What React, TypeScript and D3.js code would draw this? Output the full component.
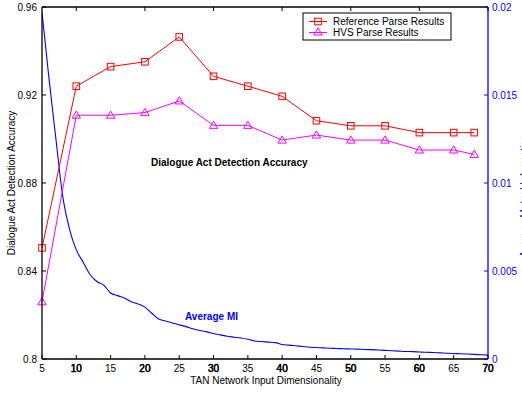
import React from "react";
import * as d3 from "d3";

const dims = [5, 10, 15, 20, 25, 30, 35, 40, 45, 50, 55, 60, 65, 68];
const refParse = [0.8505, 0.924, 0.9329, 0.9351, 0.9464, 0.9285, 0.924, 0.9194, 0.9083, 0.906, 0.906, 0.9029, 0.9029, 0.9029];
const hvsParse = [0.826, 0.9108, 0.9108, 0.912, 0.9173, 0.9062, 0.9062, 0.8995, 0.9018, 0.8995, 0.8995, 0.895, 0.895, 0.893];

const miDims = d3.range(5, 71);
const miValues = [
  0.0197, 0.016, 0.0126, 0.0093, 0.0074, 0.0062, 0.0055, 0.0048, 0.0044, 0.0042,
  0.00375, 0.0036, 0.00347, 0.00325, 0.00313, 0.00295, 0.0026, 0.00227, 0.00216, 0.00205,
  0.00194, 0.00184, 0.00172, 0.00162, 0.00154, 0.00145, 0.00137, 0.00129, 0.00124, 0.00119,
  0.00112, 0.00102, 0.00099, 0.00096, 0.00093, 0.00082, 0.00079, 0.00075, 0.00071, 0.00067,
  0.00065, 0.00063, 0.00061, 0.0006, 0.00058, 0.00057, 0.00056, 0.00054, 0.00053, 0.00051,
  0.00049, 0.00047, 0.00045, 0.00043, 0.00042, 0.0004, 0.00038, 0.00037, 0.00035, 0.00033,
  0.00031, 0.0003, 0.00028, 0.00026, 0.00024, 0.00022,
];

const xTicksMinor = [5, 15, 25, 35, 45, 55, 65];
const xTicksMajor = [10, 20, 30, 40, 50, 60, 70];
const yTicksLeft = [0.8, 0.84, 0.88, 0.92, 0.96];
const yTicksLeftLabels = ["0.8", "0.84", "0.88", "0.92", "0.96"];
const yTicksRight = [0, 0.005, 0.01, 0.015, 0.02];
const yTicksRightLabels = ["0", "0.005", "0.01", "0.015", "0.02"];

const W = 522, H = 393;
const L = 42, R = 488, T = 7, B = 359;
const FONT = "'Liberation Sans', Arial, Helvetica, sans-serif";
const FS = 10;

export default function App() {
  const x = d3.scaleLinear().domain([5, 70]).range([L, R]);
  const yL = d3.scaleLinear().domain([0.8, 0.96]).range([B, T]);
  const yR = d3.scaleLinear().domain([0, 0.02]).range([B, T]);

  const lineRef = d3.line<number>().x((_, i) => x(dims[i])).y((d) => yL(d));
  const lineMI = d3.line<number>().x((_, i) => x(miDims[i])).y((d) => yR(d)).curve(d3.curveMonotoneX);

  const sq = 3.3;
  const tri = (cx: number, cy: number) =>
    `M${cx},${cy - 4.2}L${cx + 4.2},${cy + 3}L${cx - 4.2},${cy + 3}Z`;

  return (
    <svg width={W} height={H} style={{ position: "absolute", left: 0, top: 0, background: "#fff" }} fontFamily={FONT}>
      <rect x={0} y={0} width={W} height={H} fill="#fff" />
      <defs>
        <clipPath id="plot">
          <rect x={L} y={T} width={R - L} height={B - T} />
        </clipPath>
      </defs>

      {/* MI curve */}
      <path d={lineMI(miValues) || ""} fill="none" stroke="#0000ff" strokeWidth={1.1} clipPath="url(#plot)" />

      {/* Reference parse */}
      <path d={lineRef(refParse) || ""} fill="none" stroke="#ff0000" strokeWidth={1} />
      {refParse.map((v, i) => (
        <rect key={"r" + i} x={x(dims[i]) - sq} y={yL(v) - sq} width={sq * 2} height={sq * 2} fill="none" stroke="#ff0000" strokeWidth={1} />
      ))}
      {/* HVS parse */}
      <path d={lineRef(hvsParse) || ""} fill="none" stroke="#ff00ff" strokeWidth={1} />
      {hvsParse.map((v, i) => (
        <path key={"h" + i} d={tri(x(dims[i]), yL(v))} fill="none" stroke="#ff00ff" strokeWidth={1} />
      ))}

      {/* Axes box */}
      <line x1={L} y1={T} x2={R} y2={T} stroke="#000" strokeWidth={1.3} />
      <line x1={L} y1={B} x2={R} y2={B} stroke="#000" strokeWidth={1.3} />
      <line x1={L} y1={T} x2={L} y2={B} stroke="#000" strokeWidth={1.3} />
      <line x1={R} y1={T} x2={R} y2={B} stroke="#0000ff" strokeWidth={1.3} />

      {/* x ticks */}
      {xTicksMinor.concat(xTicksMajor).map((t) => (
        <g key={"xt" + t}>
          <line x1={x(t)} y1={B} x2={x(t)} y2={B - 4} stroke="#000" />
          <text x={x(t)} y={372} fontSize={FS} textAnchor="middle" fill="#000">{t}</text>
        </g>
      ))}
      {xTicksMajor.map((t) => (
        <g key={"xtm" + t}>
          <line x1={x(t)} y1={T} x2={x(t)} y2={T + 4} stroke="#000" />
          <text x={x(t)} y={372} fontSize={FS} textAnchor="middle" fill="#000" stroke="#000" strokeWidth={0.4}>{t}</text>
        </g>
      ))}

      {/* left y ticks */}
      {yTicksLeft.map((t, i) => (
        <g key={"yl" + t}>
          <line x1={L} y1={yL(t)} x2={L + 4} y2={yL(t)} stroke="#000" />
          <text x={37} y={yL(t) + 3.5} fontSize={FS} textAnchor="end" fill="#000">{yTicksLeftLabels[i]}</text>
        </g>
      ))}

      {/* right y ticks */}
      {yTicksRight.map((t, i) => (
        <g key={"yr" + t}>
          <line x1={R} y1={yR(t)} x2={R - 4} y2={yR(t)} stroke="#0000ff" />
          <text x={492} y={yR(t) + 3.5} fontSize={FS} textAnchor="start" fill="#0000ff">{yTicksRightLabels[i]}</text>
        </g>
      ))}

      {/* axis titles */}
      <text x={266} y={384} fontSize={FS} textAnchor="middle" fill="#000">TAN Network Input Dimensionality</text>
      <text transform="translate(15,183) rotate(-90)" fontSize={FS} textAnchor="middle" fill="#000">Dialogue Act Detection Accuracy</text>
      <text transform="translate(528,196) rotate(-90)" fontSize={FS} textAnchor="middle" fill="#0000ff">Average Mutual Information</text>

      {/* annotations */}
      <text x={151} y={165.5} fontSize={FS} fontWeight="bold" fill="#000">Dialogue Act Detection Accuracy</text>
      <text x={185} y={319.5} fontSize={FS} fontWeight="bold" fill="#0000ff">Average MI</text>

      {/* legend */}
      <rect x={303} y={13} width={148} height={27} fill="#fff" stroke="#000" strokeWidth={1} />
      <line x1={309} y1={21.5} x2={327} y2={21.5} stroke="#ff0000" />
      <rect x={318 - sq} y={21.5 - sq} width={sq * 2} height={sq * 2} fill="none" stroke="#ff0000" />
      <text x={333} y={25} fontSize={FS} fill="#000">Reference Parse Results</text>
      <line x1={309} y1={32.5} x2={327} y2={32.5} stroke="#ff00ff" />
      <path d={tri(318, 32)} fill="none" stroke="#ff00ff" />
      <text x={333} y={36} fontSize={FS} fill="#000">HVS Parse Results</text>
    </svg>
  );
}
